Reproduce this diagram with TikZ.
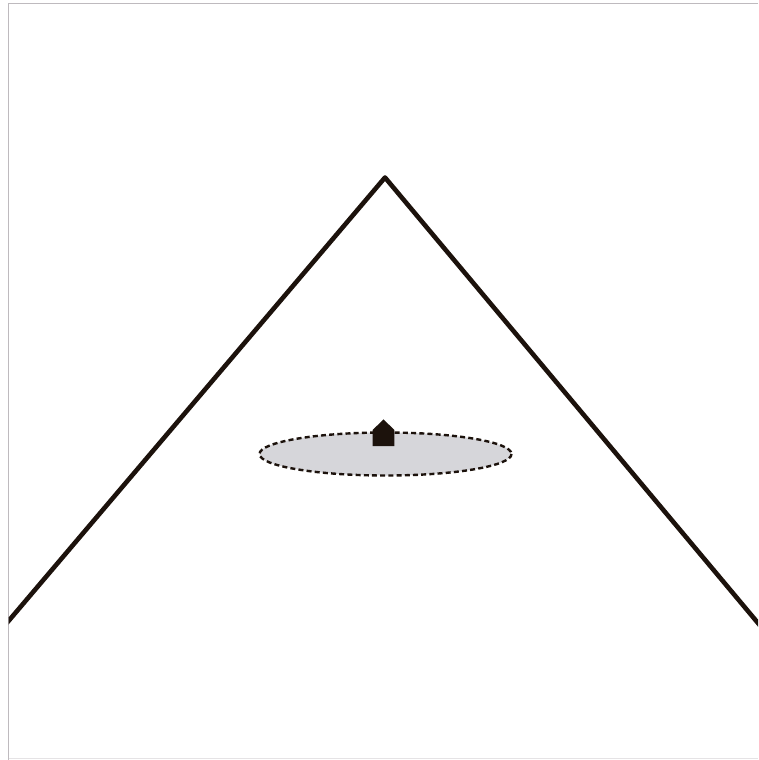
\documentclass[tikz,border=0pt]{standalone}
\definecolor{inkdark}{RGB}{28,18,12}
\definecolor{framegray}{RGB}{190,186,190}
\definecolor{disc}{RGB}{214,214,218}
\tikzset{
  framestyle/.style={draw=framegray,line width=1.2pt},
  conestyle/.style={draw=inkdark,line width=4.6pt,line join=round},
  areastyle/.style={draw=inkdark,fill=disc,line width=2.4pt,dash pattern=on 5pt off 3.2pt},
  housestyle/.style={fill=inkdark,draw=none}
}
\begin{document}
\begin{tikzpicture}[x=1pt,y=-1pt]
\useasboundingbox (0,0) rectangle (758,760);
\fill[white] (0,0) rectangle (758,760);
\draw[framestyle] (758,3.5) -- (8.5,3.5) -- (8.5,760);
\draw[draw=framegray!40,line width=1pt] (8.5,758.5) -- (758,758.5);
\coordinate (apex) at (385,177.5);
\begin{scope}
\clip (8.5,0) rectangle (758,760);
\draw[conestyle] (-1.5,632.8) -- (apex) -- (768,635);
\end{scope}
\path[areastyle] (385.5,454) ellipse [x radius=126, y radius=21.5];
\fill[housestyle] (372.7,446) -- (372.7,430) -- (383.5,419.3) -- (394.3,430) -- (394.3,446) -- cycle;
\end{tikzpicture}
\end{document}
